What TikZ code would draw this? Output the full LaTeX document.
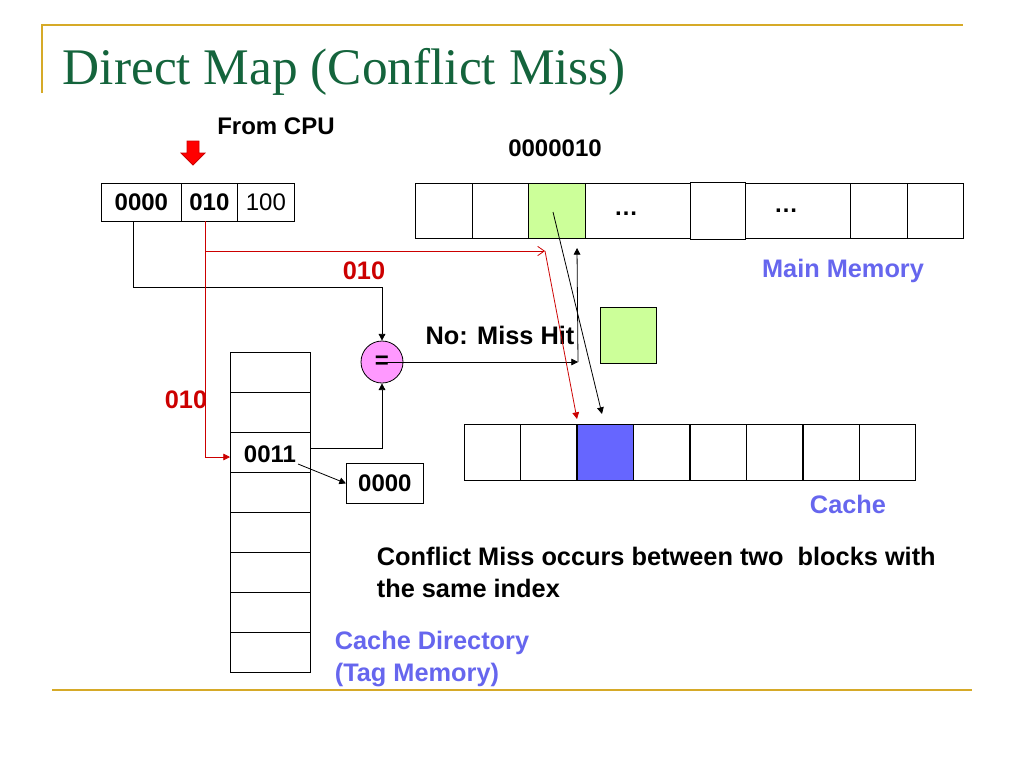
\documentclass[tikz,border=0pt]{standalone}
\usepackage{fontspec}
\setmainfont{Liberation Sans}
\newfontfamily\titlefont{Liberation Serif}
\usetikzlibrary{arrows.meta,positioning}
\definecolor{slidegold}{RGB}{214,170,40}
\definecolor{titlegreen}{RGB}{20,100,60}
\definecolor{memgreen}{RGB}{204,255,153}
\definecolor{cacheblue}{RGB}{102,102,255}
\definecolor{labelblue}{RGB}{102,102,238}
\definecolor{eqpink}{RGB}{255,153,255}
\definecolor{addrred}{RGB}{204,0,0}
\tikzset{
  cell/.style={draw,line width=0.6pt,minimum width=#1*0.75pt,minimum height=40*0.75pt,inner sep=0pt,anchor=north west},
  bl/.style={font=\bfseries\fontsize{18}{24}\selectfont},
  lbl/.style={font=\bfseries\fontsize{19}{24}\selectfont,text=labelblue},
  redlbl/.style={font=\bfseries\fontsize{19}{24}\selectfont,text=addrred},
  redline/.style={draw=addrred,line width=0.6pt},
}
\begin{document}
\begin{tikzpicture}[x=0.75pt,y=-0.75pt,line width=0.6pt]
			\useasboundingbox (0,0) rectangle (1024,768);
			% slide frame
			\draw[slidegold,line width=1.2pt] (42,93)-- (42,25)-- (963,25);
			\draw[slidegold,line width=1.2pt] (52,690)-- (972,690);
			\node[anchor=west,text=titlegreen,font=\titlefont\fontsize{38.5}{44}\selectfont] (title) at (58,72) {Direct Map (Conflict Miss)};
			\node[bl] (cpu) at (276,126) {From CPU};
			\node[bl] (mmaddr) at (555,148) {0000010};
			\fill[red,draw=addrred] (187,141)-- (199,141)-- (199,153)-- (205,153)-- (193,165)-- (181,153)-- (187,153)-- cycle;
			% address
			\node[cell=80,minimum height=38*0.75pt,bl] (tag) at (101,183) {0000};
			\node[cell=56,minimum height=38*0.75pt,bl] (idx) at (181,183) {010};
			\node[cell=57,minimum height=38*0.75pt,font=\fontsize{18}{20}\selectfont] (off) at (237,183) {100};
			% main memory
			\node[cell=57,minimum height=55*0.75pt] (m1) at (415,183) {};
			\node[cell=56,minimum height=55*0.75pt] (m2) at (472,183) {};
			\node[cell=57,minimum height=55*0.75pt,fill=memgreen] (m3) at (528,183) {};
			\node[cell=105,minimum height=55*0.75pt] (m4) at (585,183) {};
			\node[cell=55,minimum height=57*0.75pt] (m5) at (690,182) {};
			\node[cell=105,minimum height=55*0.75pt] (m6) at (745,183) {};
			\node[cell=57,minimum height=55*0.75pt] (m7) at (850,183) {};
			\node[cell=56,minimum height=55*0.75pt] (m8) at (907,183) {};
			\node[bl] (dots1) at (626,214) {\dots};
			\node[bl] (dots2) at (786,211) {\dots};
			\node[lbl] (mmlbl) at (843,271) {Main Memory};
			% cache
			\foreach \i/\x in {1/464,2/520,3/577,4/633,5/690,6/746,7/803,8/859} {
				\node[cell=56,minimum height=56*0.75pt] (c\i) at (\x,424) {};
			}
			\fill[cacheblue,draw=black] (c3.north west) rectangle (c3.south east);
			\node[lbl] (clbl) at (848,504) {Cache};
			\node[draw,fill=memgreen,minimum size=56*0.75pt,inner sep=0pt,anchor=north west] (blk) at (600,307) {};
			% directory
			\foreach \i in {1,...,8} {
				\node[cell=80] (d\i) at (230,352+40*\i-40) {};
			}
			\node[bl] (dtag) at (270,454) {0011};
			\node[cell=77,bl] (old) at (346,463) {0000};
			\node[lbl,align=left,anchor=north west] (dlbl) at (330,626) {Cache Directory\\(Tag Memory)};
			% compare
			\node[circle,draw,fill=eqpink,minimum size=42*0.75pt,inner sep=0pt,bl] (eq) at (382,362) {=};
			\node[bl,font=\bfseries\fontsize{19}{24}\selectfont] (miss) at (500,335) {No: Miss Hit};
			\node[redlbl] (idxa) at (364,271) {010};
			\node[redlbl] (idxb) at (186,400) {010};
			\coordinate (hit) at (578,362);
			\coordinate (mmin) at (545,251);
			\coordinate (cin) at (577,419);
			% connectors
			\draw[-{Triangle[length=5pt,width=5pt]}] (133,221)-- (133,287)-- (eq.north |- 0,287)-- (eq.north);
			\draw[-{Triangle[length=5pt,width=5pt]}] (d3.east |- 0,448)-- (eq.south |- 0,448)-- (eq.south);
			\draw[-{Triangle[length=5pt,width=5pt]}] (eq.center)-- (hit);
			\draw[-{Triangle[length=5pt,width=5pt]}] (hit)-- (577,248);
			\draw[-{Triangle[length=5pt,width=5pt]}] (298,464)-- (old.west);
			\draw[redline,-{Triangle[length=5pt,width=5pt]}] (205,221)-- (205,457)-- (d3.west |- 0,457);
			\draw[redline,-{Straight Barb[length=5pt,width=7pt]}] (205,251)-- (mmin);
			\draw[redline,-{Triangle[length=5pt,width=5pt]}] (mmin)-- (cin);
			\draw[-{Triangle[length=5pt,width=5pt]}] (553,212)-- (602,414);
			% note
			\node[bl,font=\bfseries\fontsize{19}{24}\selectfont,align=left,anchor=north west] (note) at (372,542) {Conflict Miss occurs between two\ \ blocks with\\the same index};
\end{tikzpicture}
\end{document}
